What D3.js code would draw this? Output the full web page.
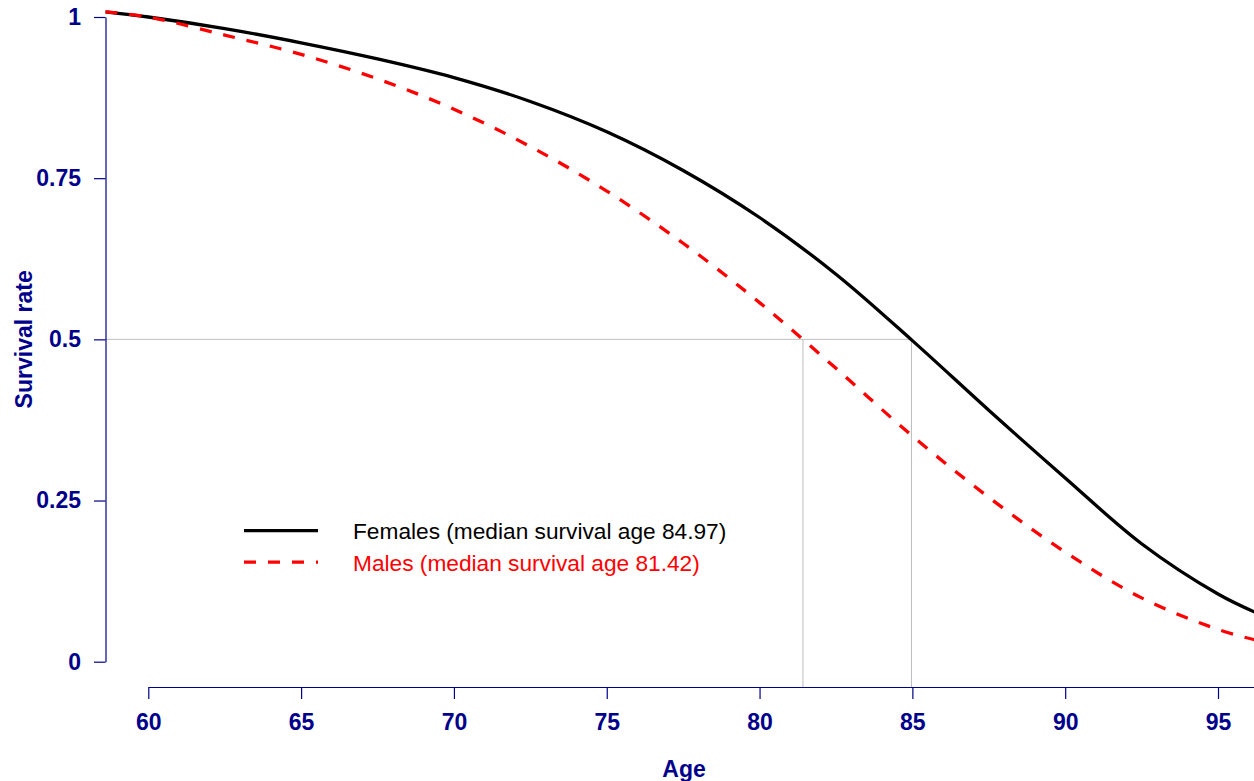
<!DOCTYPE html>
<html>
<head>
<meta charset="utf-8">
<script src="https://cdn.jsdelivr.net/npm/d3@7"></script>
<style>
  body { margin: 0; background: #fff; }
  text { font-family: "Liberation Sans", Arial, sans-serif; }
</style>
</head>
<body>
<script>
// Survival curves
const ages = [58.6, 60, 62.5, 65, 67.5, 70, 72.5, 75, 77.5, 80, 82.5, 85, 87.5, 90, 92.5, 95, 96.2];
const females = [1.008, 1.000, 0.982, 0.960, 0.935, 0.906, 0.869, 0.822, 0.762, 0.689, 0.601, 0.498, 0.390, 0.285, 0.183, 0.105, 0.077];
const males = [1.008, 1.000, 0.972, 0.942, 0.904, 0.857, 0.799, 0.730, 0.649, 0.557, 0.455, 0.350, 0.255, 0.170, 0.099, 0.050, 0.034];

const medianFemale = 84.97;
const medianMale = 81.42;

const xTicks = [60, 65, 70, 75, 80, 85, 90, 95];
const yTicks = [0, 0.25, 0.5, 0.75, 1];

const legendLabels = ["Females (median survival age 84.97)", "Males (median survival age 81.42)"];

let width = 1254, height = 781;
const navy = "#00008B";

let svg = d3.select('body')
  .append('svg')
  .attr('width', width)
  .attr('height', height);

// Scales
const xScale = d3.scaleLinear().domain([60, 95]).range([148.3, 1218]);
const yScale = d3.scaleLinear().domain([0, 1]).range([661.7, 17]);

const yAxisX = 105.5, xAxisY = 687.5;

// Reference lines at median
svg.append('line')
  .attr('x1', yAxisX).attr('x2', xScale(medianFemale))
  .attr('y1', yScale(0.5)).attr('y2', yScale(0.5))
  .attr('stroke', '#bebebe').attr('stroke-width', 1);

[medianMale, medianFemale].forEach(m => {
  svg.append('line')
    .attr('x1', xScale(m)).attr('x2', xScale(m))
    .attr('y1', yScale(0.5)).attr('y2', xAxisY)
    .attr('stroke', '#bebebe').attr('stroke-width', 1);
});

// Axes
let yAxis = svg.append('g')
  .attr('transform', `translate(${yAxisX},0)`)
  .call(d3.axisLeft(yScale).tickValues(yTicks).tickFormat(d => String(d))
    .tickSize(11.5).tickSizeOuter(0).tickPadding(13));

let xAxis = svg.append('g')
  .attr('transform', `translate(0,${xAxisY})`)
  .call(d3.axisBottom(xScale).tickValues(xTicks).tickFormat(d => String(d))
    .tickSize(11.5).tickSizeOuter(0).tickPadding(14.5));
xAxis.select('.domain').remove();
xAxis.append('line')
  .attr('x1', xScale(60)).attr('x2', width)
  .attr('y1', 0).attr('y2', 0)
  .attr('stroke', navy);

[xAxis, yAxis].forEach(a => {
  a.selectAll('path, line').attr('stroke', navy).attr('stroke-width', 1.2);
  a.selectAll('text')
    .attr('fill', navy)
    .style('font-size', '23px')
    .style('font-weight', 'bold')
    .style('font-family', '"Liberation Sans", Arial, sans-serif');
});

// Axis titles
svg.append('text')
  .attr('transform', `translate(31.5,${yScale(0.5)}) rotate(-90)`)
  .attr('text-anchor', 'middle')
  .attr('fill', navy)
  .style('font-size', '23px')
  .style('font-weight', 'bold')
  .text('Survival rate');

svg.append('text')
  .attr('x', 684)
  .attr('y', 777)
  .attr('text-anchor', 'middle')
  .attr('fill', navy)
  .style('font-size', '23px')
  .style('font-weight', 'bold')
  .text('Age');

// Curves
const line = d3.line()
  .x(d => xScale(d[0]))
  .y(d => yScale(d[1]))
  .curve(d3.curveCatmullRom);

svg.append('path')
  .datum(ages.map((a, i) => [a, females[i]]))
  .attr('d', line)
  .attr('fill', 'none')
  .attr('stroke', 'black')
  .attr('stroke-width', 3.3);

svg.append('path')
  .datum(ages.map((a, i) => [a, males[i]]))
  .attr('d', line)
  .attr('fill', 'none')
  .attr('stroke', 'red')
  .attr('stroke-width', 3.3)
  .attr('stroke-dasharray', '12,12');

// Legend
const legend = svg.append('g');
const legendColors = ['black', 'red'];
const legendDash = [null, '12,12'];
legendLabels.forEach((lab, i) => {
  const ly = 530.7 + i * 31.5;
  legend.append('line')
    .attr('x1', 244).attr('x2', 318)
    .attr('y1', ly).attr('y2', ly)
    .attr('stroke', legendColors[i])
    .attr('stroke-width', 3.3)
    .attr('stroke-dasharray', legendDash[i]);
  legend.append('text')
    .attr('x', 353)
    .attr('y', ly + 8.5)
    .attr('fill', legendColors[i])
    .style('font-size', '22.7px')
    .text(lab);
});
</script>
</body>
</html>
